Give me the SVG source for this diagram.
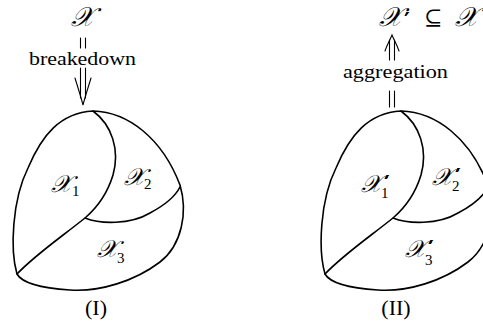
<svg xmlns="http://www.w3.org/2000/svg" width="483" height="331" viewBox="0 0 483 331">
<style>
.ln{fill:none;stroke:#000;stroke-width:1.6;stroke-linecap:round;stroke-linejoin:round}
.th{fill:none;stroke:#000;stroke-width:1.1;stroke-linecap:round}
.t{font-family:"Liberation Serif","DejaVu Serif",serif;fill:#000;font-style:normal}
.s{font-family:"DejaVu Serif","Liberation Serif",serif;font-style:italic;fill:#000}
.p{font-family:"DejaVu Sans","Liberation Sans",sans-serif;fill:#000;font-style:normal;font-weight:bold}
</style>
<rect width="483" height="331" fill="#fff"/>
<defs>
<g id="blob">
<path class="ln" d="M93,111 C128,112 162,138 180,185 C188,212 182,245 160,262 C135,281 100,292 70,290 C40,288 22,283 17,274 C10,250 12,200 28,168 C42,135 60,113 93,111 Z"/>
<path class="ln" d="M93,111 C112,125 120,150 113,175 C106,198 92,212 85,218 C60,238 35,255 17,274"/>
<path class="ln" d="M85,218 C100,224 130,225 150,213 C165,205 175,197 180,187"/>
</g>
</defs>
<g id="top-left">
<text class="s" x="82" y="26" font-size="27" text-anchor="middle">𝒳</text>
</g>
<g id="top-right">
<text class="s" x="379" y="26" font-size="27">𝒳<tspan class="p" x="404" y="28" font-size="22">′</tspan><tspan class="t" x="424" y="25" font-size="22">⊆</tspan><tspan x="455" y="26">𝒳</tspan></text>
</g>
<g id="connectors">
<line class="th" x1="80.5" y1="38" x2="80.5" y2="48"/>
<line class="th" x1="85.5" y1="38" x2="85.5" y2="48"/>
<line class="th" x1="80.5" y1="68" x2="80.5" y2="98"/>
<line class="th" x1="85.5" y1="68" x2="85.5" y2="98"/>
<path class="th" d="M75,78 C78,88 81,97 83,105 C85,97 88,88 91,78"/>
<line class="th" x1="389.5" y1="40" x2="389.5" y2="60"/>
<line class="th" x1="394.5" y1="40" x2="394.5" y2="60"/>
<path class="th" d="M385,51 C387,45 390,40 392,35 C394,40 397,45 399,51"/>
<line class="th" x1="389.5" y1="91" x2="389.5" y2="107"/>
<line class="th" x1="394.5" y1="91" x2="394.5" y2="107"/>
</g>
<g id="label-breakedown"><text class="t" x="29" y="65" font-size="18" textLength="107" lengthAdjust="spacingAndGlyphs">breakedown</text></g>
<g id="label-aggregation"><text class="t" x="343" y="78" font-size="18" textLength="105" lengthAdjust="spacingAndGlyphs">aggregation</text></g>
<g id="blob-I">
<use href="#blob"/>
<text class="s" x="51" y="192" font-size="24">𝒳<tspan class="t" x="72" y="196" font-size="15">1</tspan></text>
<text class="s" x="124" y="185" font-size="24">𝒳<tspan class="t" x="144" y="189" font-size="15">2</tspan></text>
<text class="s" x="97" y="257" font-size="24">𝒳<tspan class="t" x="117" y="263" font-size="15">3</tspan></text>
<text class="t" x="96" y="315" font-size="22" text-anchor="middle">(I)</text>
</g>
<g id="blob-II">
<use href="#blob" transform="translate(308,0)"/>
<text class="s" x="361" y="192" font-size="24">𝒳<tspan class="p" x="384" y="191" font-size="22">′</tspan><tspan class="t" x="381" y="198" font-size="15">1</tspan></text>
<text class="s" x="432" y="185" font-size="24">𝒳<tspan class="p" x="455" y="184" font-size="22">′</tspan><tspan class="t" x="452" y="191" font-size="15">2</tspan></text>
<text class="s" x="405" y="257" font-size="24">𝒳<tspan class="p" x="428" y="256" font-size="22">′</tspan><tspan class="t" x="425" y="265" font-size="15">3</tspan></text>
<text class="t" x="396" y="315" font-size="22" text-anchor="middle">(II)</text>
</g>
</svg>
